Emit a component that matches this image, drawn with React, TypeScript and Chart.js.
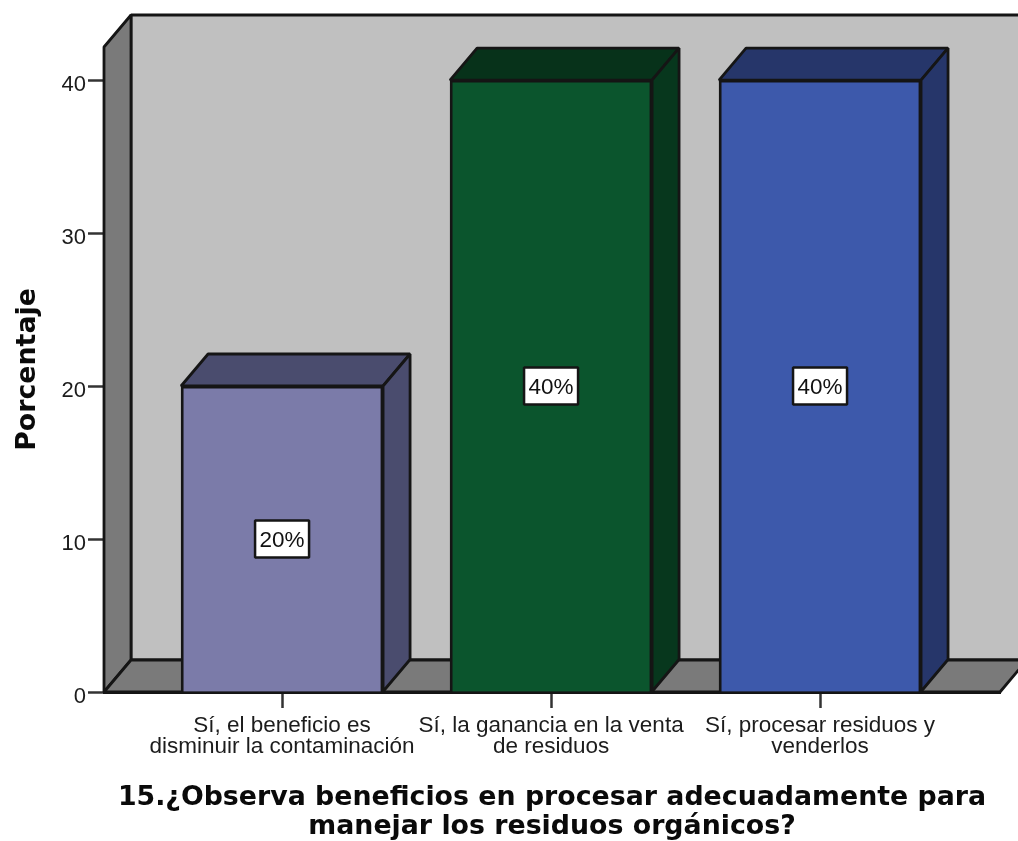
import React, { useEffect, useRef } from "react";
import { Chart, registerables } from "chart.js";

Chart.register(...registerables);

const categories: string[][] = [
  ["Sí, el beneficio es", "disminuir la contaminación"],
  ["Sí, la ganancia en la venta", "de residuos"],
  ["Sí, procesar residuos y", "venderlos"],
];
const positions = [0, 1, 2];
const percentages = [20, 40, 40];
const valueLabels = ["20%", "40%", "40%"];
const yTicks = [0, 10, 20, 30, 40];
const xTitle = [
  "15.¿Observa beneficios en procesar adecuadamente para",
  "manejar los residuos orgánicos?",
];
const yTitle = "Porcentaje";

const faceColors = ["#7B7BA9", "#0B552D", "#3D59AB"];
const topColors = ["#4A4C6E", "#07321A", "#26366A"];
const sideColors = ["#4A4C6E", "#07371D", "#26366A"];

const DEPTH_X = 27;
const DEPTH_Y = 32;
const EDGE = "#151515";
const SANS = '"Liberation Sans", Arial, sans-serif';

function polygon(ctx: CanvasRenderingContext2D, pts: number[][], fill: string, stroke = EDGE) {
  ctx.beginPath();
  pts.forEach(([x, y], i) => (i ? ctx.lineTo(x, y) : ctx.moveTo(x, y)));
  ctx.closePath();
  ctx.fillStyle = fill;
  ctx.fill();
  ctx.lineWidth = 2.8;
  ctx.lineJoin = "bevel";
  ctx.strokeStyle = stroke;
  ctx.stroke();
}

// Back wall, left wall and floor of the 3D box behind the bars.
const boxPlugin = {
  id: "box",
  beforeDatasetsDraw(chart: any) {
    const { ctx, chartArea: a } = chart;
    ctx.save();
    const bx = a.left + DEPTH_X;
    polygon(ctx, [[bx, a.top - DEPTH_Y], [chart.width + 40, a.top - DEPTH_Y], [chart.width + 40, a.bottom - DEPTH_Y], [bx, a.bottom - DEPTH_Y]], "#C0C0C0");
    polygon(ctx, [[a.left, a.top], [bx, a.top - DEPTH_Y], [bx, a.bottom - DEPTH_Y], [a.left, a.bottom]], "#7A7A7A");
    polygon(ctx, [[a.left, a.bottom], [bx, a.bottom - DEPTH_Y], [a.right + DEPTH_X, a.bottom - DEPTH_Y], [a.right, a.bottom]], "#7A7A7A");
    ctx.restore();
  },
};

// Top and side faces of each bar, then the boxed value label at mid height.
const barFacesPlugin = {
  id: "barFaces",
  afterDatasetsDraw(chart: any) {
    const { ctx, scales } = chart;
    const bars = chart.getDatasetMeta(0).data;
    ctx.save();
    bars.forEach((bar: any, i: number) => {
      const half = bar.width / 2;
      const l = bar.x - half;
      const r = bar.x + half;
      const t = bar.y;
      const b = bar.base;
      polygon(ctx, [[l, t], [l + DEPTH_X, t - DEPTH_Y], [r + DEPTH_X, t - DEPTH_Y], [r, t]], topColors[i]);
      polygon(ctx, [[r, t], [r + DEPTH_X, t - DEPTH_Y], [r + DEPTH_X, b - DEPTH_Y], [r, b]], sideColors[i]);
      const cy = scales.y.getPixelForValue(percentages[i] / 2);
      ctx.fillStyle = "#fff";
      ctx.strokeStyle = EDGE;
      ctx.lineWidth = 2.5;
      ctx.fillRect(bar.x - 27, cy - 18.5, 54, 37);
      ctx.strokeRect(bar.x - 27, cy - 18.5, 54, 37);
      ctx.fillStyle = "#111";
      ctx.font = `22.5px ${SANS}`;
      ctx.textAlign = "center";
      ctx.textBaseline = "middle";
      ctx.fillText(valueLabels[i], bar.x, cy + 1.5);
    });
    ctx.restore();
  },
};

export default function App() {
  const ref = useRef<HTMLCanvasElement>(null);

  useEffect(() => {
    const chart = new Chart(ref.current!, {
      type: "bar",
      data: {
        datasets: [
          {
            data: positions.map((x, i) => ({ x, y: percentages[i] })),
            backgroundColor: faceColors,
            borderColor: EDGE,
            borderWidth: 2.8,
            barThickness: 202,
          },
        ],
      },
      plugins: [boxPlugin, barFacesPlugin],
      options: {
        animation: false,
        responsive: false,
        layout: { padding: { left: 0, top: 47, right: 18, bottom: 0 } },
        plugins: { legend: { display: false }, tooltip: { enabled: false }, title: { display: false } },
        scales: {
          x: {
            type: "linear",
            offset: false,
            min: -0.662,
            max: 2.669,
            afterFit(scale: any) {
              scale.height = 149;
            },
            afterBuildTicks(scale: any) {
              scale.ticks = positions.map((value) => ({ value }));
            },
            grid: { offset: false, drawOnChartArea: false, tickLength: 16, tickColor: "#333", tickWidth: 2.5 },
            border: { color: EDGE, width: 3 },
            ticks: {
              autoSkip: false,
              maxRotation: 0,
              padding: 7,
              color: "#1c1c1c",
              font: { family: SANS, size: 22.5, lineHeight: 0.95 },
              callback: (v: any) => categories[v] ?? "",
            },
            title: {
              display: true,
              text: xTitle,
              color: "#0a0a0a",
              font: { family: '"DejaVu Sans"', size: 26.8, weight: "bold", lineHeight: 1.1 },
              padding: { top: 0, bottom: -1 },
            },
          },
          y: {
            min: 0,
            max: 42.16,
            afterFit(scale: any) {
              scale.width = 104;
            },
            afterBuildTicks(scale: any) {
              scale.ticks = yTicks.map((value) => ({ value }));
            },
            grid: { drawOnChartArea: false, tickLength: 16, tickColor: "#333", tickWidth: 2.5 },
            border: { color: EDGE, width: 3 },
            ticks: {
              padding: 2,
              labelOffset: 5,
              color: "#1c1c1c",
              font: { family: SANS, size: 22 },
            },
            title: {
              display: true,
              text: yTitle,
              color: "#0a0a0a",
              font: { family: '"DejaVu Sans"', size: 26.8, weight: "bold" },
              padding: { top: 12, bottom: 0 },
            },
          },
        },
      },
    } as any);
    return () => chart.destroy();
  }, []);

  return (
    <canvas
      ref={ref}
      width={1018}
      height={841}
      style={{ position: "fixed", left: 0, top: 0, display: "block" }}
    />
  );
}
